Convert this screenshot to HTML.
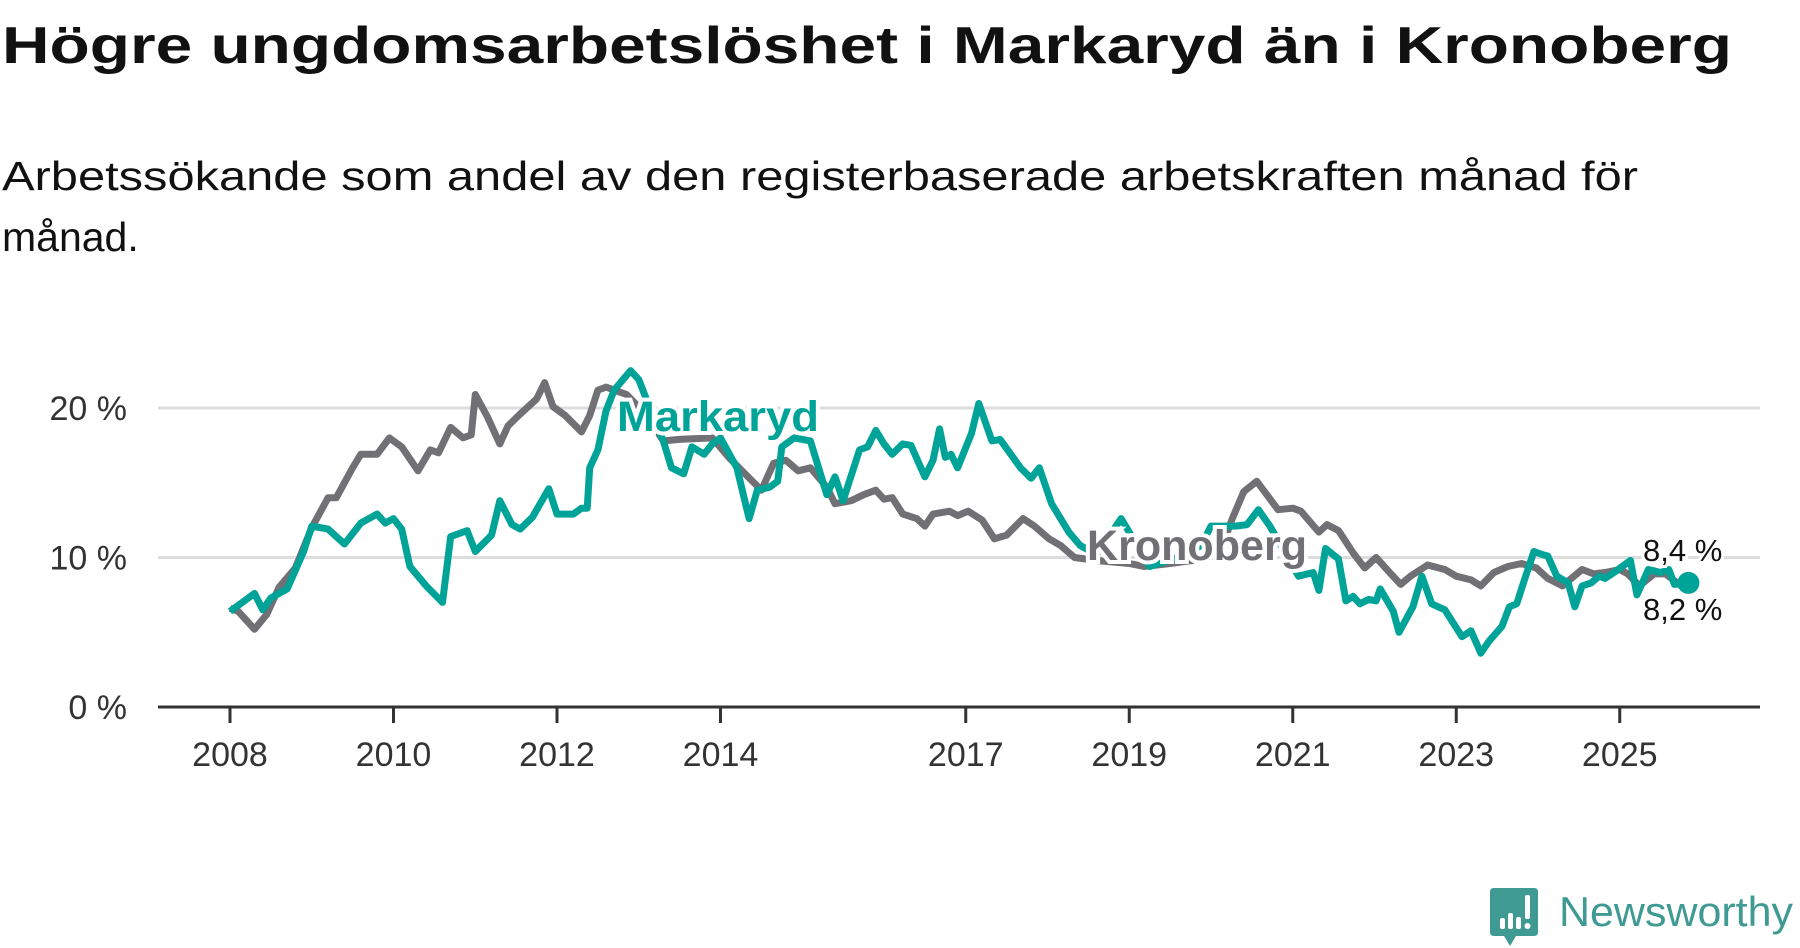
<!DOCTYPE html>
<html><head><meta charset="utf-8"><style>
html,body{margin:0;padding:0;background:#fff;}
svg{display:block;font-family:"Liberation Sans",sans-serif;}
</style></head><body>
<svg id="chart" width="1800" height="948" viewBox="0 0 1800 948">
<text x="2" y="63" font-size="52" font-weight="bold" fill="#111" textLength="1730" lengthAdjust="spacingAndGlyphs">Högre ungdomsarbetslöshet i Markaryd än i Kronoberg</text>
<text x="2" y="190" font-size="41" fill="#111" textLength="1636" lengthAdjust="spacingAndGlyphs">Arbetssökande som andel av den registerbaserade arbetskraften månad för</text>
<text x="2" y="251" font-size="41" fill="#111">månad.</text>
<g id="grid"></g><g id="axes"></g><g id="lines"></g><g id="labels"></g>
<g>
<path d="M1494 888h40q4 0 4 4v40q0 4-4 4h-18l-6 10-6-10h-10q-4 0-4-4v-40q0-4 4-4z" fill="#3f9a94"/>
<rect x="1500" y="918" width="5" height="11" rx="2" fill="#fff"/>
<rect x="1508" y="913" width="5" height="16" rx="2" fill="#fff"/>
<rect x="1516" y="917" width="5" height="12" rx="2" fill="#fff"/>
<rect x="1525" y="895" width="5" height="24" rx="2" fill="#fff"/>
<circle cx="1527.5" cy="926" r="3" fill="#fff"/>
<text x="1559" y="926" font-size="42" fill="#3f9a94" textLength="234" lengthAdjust="spacingAndGlyphs">Newsworthy</text>
</g>
</svg>
<script>
const yTicks=[0,10,20];
const yTickLabels=["0 %","10 %","20 %"];
const xTicks=[2008,2010,2012,2014,2017,2019,2021,2023,2025];
const xTickLabels=["2008","2010","2012","2014","2017","2019","2021","2023","2025"];
const kronDates=[2008.0,2008.1,2008.3,2008.45,2008.6,2008.8,2009.0,2009.2,2009.3,2009.5,2009.6,2009.8,2009.95,2010.1,2010.3,2010.45,2010.55,2010.7,2010.85,2010.95,2011.0,2011.15,2011.3,2011.4,2011.55,2011.75,2011.85,2011.95,2012.1,2012.3,2012.4,2012.5,2012.6,2012.85,2013.1,2013.3,2013.5,2013.9,2014.1,2014.3,2014.5,2014.65,2014.8,2014.95,2015.1,2015.3,2015.4,2015.6,2015.75,2015.9,2016.0,2016.1,2016.23,2016.4,2016.5,2016.6,2016.8,2016.9,2017.03,2017.2,2017.35,2017.5,2017.7,2017.84,2018.02,2018.16,2018.33,2018.6,2019.0,2019.18,2019.5,2019.9,2020.1,2020.26,2020.4,2020.56,2020.82,2021.0,2021.1,2021.32,2021.42,2021.56,2021.74,2021.88,2022.02,2022.2,2022.32,2022.44,2022.65,2022.86,2023.0,2023.18,2023.3,2023.46,2023.63,2023.8,2023.98,2024.12,2024.3,2024.44,2024.54,2024.68,2024.82,2025.0,2025.1,2025.24,2025.42,2025.56,2025.75,2025.84];
const kronValues=[6.6,6.4,5.2,6.2,8.0,9.3,12.0,14.0,14.0,16.0,16.9,16.9,18.0,17.4,15.8,17.2,17.0,18.7,18.0,18.2,20.9,19.4,17.6,18.8,19.6,20.6,21.7,20.1,19.5,18.4,19.5,21.2,21.4,20.9,19.5,17.8,17.9,18.0,16.7,15.6,14.5,16.3,16.5,15.8,16.0,14.7,13.6,13.8,14.2,14.5,13.9,14.0,12.9,12.6,12.1,12.9,13.1,12.8,13.1,12.5,11.25,11.5,12.6,12.1,11.25,10.8,10.0,9.8,9.6,9.4,9.6,9.9,10.2,12.6,14.4,15.1,13.2,13.3,13.1,11.7,12.2,11.8,10.3,9.3,10.0,8.9,8.2,8.75,9.5,9.2,8.75,8.5,8.1,9.0,9.4,9.6,9.3,8.6,8.1,8.75,9.2,8.9,9.0,9.2,8.9,8.1,8.9,8.9,8.1,8.2];
const markDates=[2008.0,2008.15,2008.3,2008.4,2008.5,2008.7,2008.9,2009.0,2009.2,2009.4,2009.6,2009.8,2009.9,2010.0,2010.1,2010.2,2010.4,2010.6,2010.7,2010.9,2011.0,2011.2,2011.3,2011.45,2011.55,2011.7,2011.9,2012.0,2012.2,2012.3,2012.37,2012.4,2012.5,2012.6,2012.7,2012.9,2013.0,2013.1,2013.3,2013.4,2013.55,2013.65,2013.8,2013.9,2014.0,2014.2,2014.35,2014.45,2014.6,2014.7,2014.75,2014.9,2015.1,2015.3,2015.4,2015.5,2015.7,2015.8,2015.9,2016.0,2016.1,2016.23,2016.33,2016.5,2016.6,2016.68,2016.75,2016.82,2016.9,2017.07,2017.16,2017.32,2017.42,2017.67,2017.8,2017.9,2018.05,2018.26,2018.4,2018.6,2018.9,2019.25,2019.6,2019.88,2020.0,2020.3,2020.44,2020.58,2020.72,2021.07,2021.25,2021.32,2021.4,2021.56,2021.65,2021.74,2021.82,2021.93,2022.02,2022.07,2022.23,2022.3,2022.47,2022.58,2022.7,2022.86,2023.07,2023.18,2023.3,2023.4,2023.56,2023.65,2023.74,2023.84,2023.95,2024.05,2024.12,2024.23,2024.37,2024.45,2024.54,2024.65,2024.75,2024.82,2024.93,2025.13,2025.21,2025.35,2025.5,2025.6,2025.67,2025.84];
const markValues=[6.4,7.0,7.6,6.5,7.3,7.9,10.4,12.1,11.9,10.9,12.3,12.9,12.3,12.6,11.9,9.4,8.1,7.0,11.4,11.8,10.4,11.5,13.8,12.2,11.9,12.7,14.6,12.9,12.9,13.3,13.3,16.0,17.2,19.8,21.2,22.5,21.9,20.5,17.8,16.0,15.6,17.4,16.9,17.6,18.0,16.0,12.6,14.5,14.7,15.1,17.4,18.0,17.8,14.2,15.4,13.8,17.2,17.4,18.5,17.6,16.9,17.6,17.5,15.4,16.5,18.6,16.7,16.9,16.0,18.3,20.3,17.8,17.9,16.0,15.3,16.0,13.6,11.7,10.8,10.2,12.6,9.4,10.0,10.8,12.1,12.1,12.2,13.2,12.1,8.75,9.0,7.8,10.6,9.9,7.1,7.4,6.9,7.2,7.1,7.9,6.4,5.0,6.7,8.75,6.9,6.5,4.7,5.1,3.6,4.4,5.4,6.7,6.9,8.6,10.4,10.2,10.1,8.75,8.3,6.7,8.1,8.3,8.75,8.6,9.0,9.8,7.5,9.2,9.0,9.2,8.2,8.3];
const endLabels=["8,4 %","8,2 %"];
const NS="http://www.w3.org/2000/svg";
function xs(t){return 230+81.75*(t-2008);}
function ys(v){return 707-14.95*v;}
function mk(tag,attrs,parent){const e=document.createElementNS(NS,tag);for(const k in attrs)e.setAttribute(k,attrs[k]);parent.appendChild(e);return e;}
const grid=document.getElementById('grid'),axes=document.getElementById('axes'),lines=document.getElementById('lines'),labels=document.getElementById('labels');
yTicks.forEach((v,i)=>{
  if(v>0){const g=mk('line',{x1:158,x2:1760,y1:ys(v),y2:ys(v),stroke:'#dddddd','stroke-width':3},grid);
  
  }
  const t=mk('text',{x:127,y:ys(v)+12,'font-size':34,fill:'#333','text-anchor':'end'},axes);
  t.textContent=yTickLabels[i];
  
  
});
const ax=mk('line',{x1:158,x2:1760,y1:707,y2:707,stroke:'#333','stroke-width':3},axes);


xTicks.forEach((t,i)=>{
  const tk=mk('line',{x1:xs(t),x2:xs(t),y1:707,y2:723,stroke:'#333','stroke-width':3},axes);
  
  
  const tx=mk('text',{x:xs(t),y:766,'font-size':34,fill:'#333','text-anchor':'middle'},axes);
  tx.textContent=xTickLabels[i];
  
  
});
function pts(d,v){return d.map((t,i)=>xs(t).toFixed(1)+','+ys(v[i]).toFixed(1)).join(' ');}
const kl=mk('polyline',{points:pts(kronDates,kronValues),fill:'none',stroke:'#707075','stroke-width':7,'stroke-linejoin':'round'},lines);


const ml=mk('polyline',{points:pts(markDates,markValues),fill:'none',stroke:'#00a398','stroke-width':7,'stroke-linejoin':'round'},lines);


const mi=markDates.length-1;
const dot=mk('circle',{cx:xs(markDates[mi]),cy:ys(markValues[mi]),r:11,fill:'#00a398'},lines);


const l1=mk('text',{x:617,y:431,'font-size':43,'font-weight':'bold',fill:'#00a398',stroke:'#fff','stroke-width':8,'paint-order':'stroke',textLength:202,lengthAdjust:'spacingAndGlyphs'},labels);
l1.textContent='Markaryd';


const l2=mk('text',{x:1087,y:560,'font-size':43,'font-weight':'bold',fill:'#707075',stroke:'#fff','stroke-width':8,'paint-order':'stroke',textLength:220,lengthAdjust:'spacingAndGlyphs'},labels);
l2.textContent='Kronoberg';


const e1=mk('text',{x:1643,y:561,'font-size':31,fill:'#111',stroke:'#fff','stroke-width':6,'paint-order':'stroke'},labels);
e1.textContent=endLabels[0];


const e2=mk('text',{x:1643,y:620,'font-size':31,fill:'#111',stroke:'#fff','stroke-width':6,'paint-order':'stroke'},labels);
e2.textContent=endLabels[1];


</script>
</body></html>
